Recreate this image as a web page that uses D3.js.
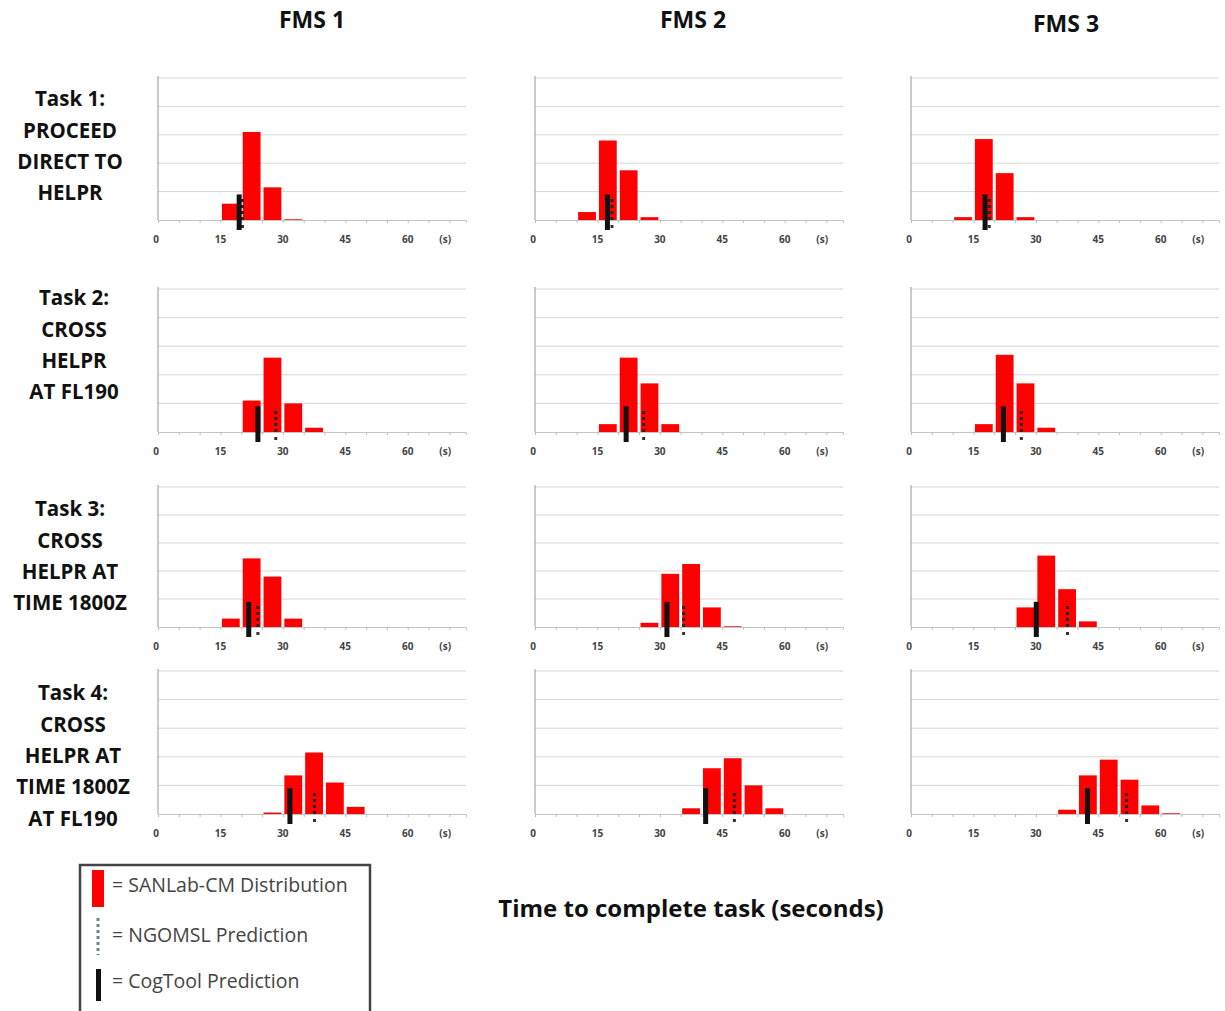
<!DOCTYPE html>
<html><head><meta charset="utf-8">
<script src="https://cdn.jsdelivr.net/npm/d3@7"></script>
<style>body{margin:0;background:#fff;} svg{display:block;font-family:"Open Sans",Lato,sans-serif;}</style>
</head><body><svg id="c" width="1225" height="1011"></svg>
<script>
// ---------- data ----------
const fmsNames = ["FMS 1", "FMS 2", "FMS 3"];
const taskLabels = [
  ["Task 1:", "PROCEED", "DIRECT TO", "HELPR"],
  ["Task 2:", "CROSS", "HELPR", "AT FL190"],
  ["Task 3:", "CROSS", "HELPR AT", "TIME 1800Z"],
  ["Task 4:", "CROSS", "HELPR AT", "TIME 1800Z", "AT FL190"]
];
const tickValues = [0, 15, 30, 45, 60];
const unitLabel = "(s)";
// histogram bin start (seconds), bins are 5 s wide
const binStarts = [10, 15, 20, 25, 30, 35, 40, 45, 50, 55, 60];
// SANLab-CM distribution (% of runs per bin), one array per FMS
const task1 = [
  [0, 11.5, 62, 23, 0.5, 0, 0, 0, 0, 0, 0],
  [5.6, 56, 35, 2, 0, 0, 0, 0, 0, 0, 0],
  [2, 57, 33, 2, 0, 0, 0, 0, 0, 0, 0]
];
const task2 = [
  [0, 0, 22, 52, 20, 3, 0, 0, 0, 0, 0],
  [0, 5.5, 52, 34, 5.5, 0, 0, 0, 0, 0, 0],
  [0, 5.5, 54, 34, 3, 0, 0, 0, 0, 0, 0]
];
const task3 = [
  [0, 6, 49, 36, 6, 0, 0, 0, 0, 0, 0],
  [0, 0, 0, 3, 38, 45, 14, 0.5, 0, 0, 0],
  [0, 0, 0, 14, 51, 27, 4, 0, 0, 0, 0]
];
const task4 = [
  [0, 0, 0, 1, 27, 43, 22, 5, 0, 0, 0],
  [0, 0, 0, 0, 0, 4, 32, 39, 20, 4, 0],
  [0, 0, 0, 0, 0, 3, 27, 38, 24, 6, 0.5]
];
const distributions = [task1, task2, task3, task4];
// point predictions (seconds): [task][fms]
const cogToolPred = [[19.5, 17.4, 17.8], [24, 21.9, 22.2], [21.8, 31.7, 30.1], [31.7, 41, 42.4]];
const ngomslPred = [[20.3, 18.5, 18.8], [28.3, 26.1, 26.5], [24, 35.7, 37.6], [37.6, 47.9, 51.8]];
const gridValues = [20, 40, 60, 80, 100];

// ---------- layout ----------
const svg = d3.select("#c");
const colX0 = [158, 535, 911];
const plotW = 308;
const rowTop = [78, 289, 487, 671];
const rowBase = [220, 432, 627, 814];
const headerX = [312, 693, 1066], headerY = [22, 22, 26];
const labelX = [70, 74, 70, 73];
const labelY0 = [101, 300, 511, 695];
const lineH = 31.3;

// headers
fmsNames.forEach((n, i) => {
  svg.append("text").attr("x", headerX[i]).attr("y", headerY[i])
    .attr("text-anchor", "middle").attr("dominant-baseline", "middle")
    .attr("font-size", 23).attr("font-weight", "bold").attr("fill", "#111").text(n);
});
// row labels
taskLabels.forEach((lines, r) => {
  lines.forEach((t, k) => {
    svg.append("text").attr("x", labelX[r]).attr("y", labelY0[r] + k * lineH)
      .attr("text-anchor", "middle").attr("dominant-baseline", "middle")
      .attr("font-size", 20.5).attr("font-weight", "bold").attr("fill", "#111").text(t);
  });
});

// panels
distributions.forEach((taskDist, r) => {
  taskDist.forEach((vals, c) => {
    const x = d3.scaleLinear().domain([0, 74]).range([colX0[c], colX0[c] + plotW]);
    const y = d3.scaleLinear().domain([0, 100]).range([rowBase[r], rowTop[r]]);
    const g = svg.append("g");
    // gridlines
    g.selectAll("line.grid").data(gridValues).join("line")
      .attr("x1", x(0)).attr("x2", x(74)).attr("y1", d => y(d)).attr("y2", d => y(d))
      .attr("stroke", "#d6d6d6").attr("stroke-width", 1);
    // y axis line
    g.append("line").attr("x1", x(0)).attr("x2", x(0)).attr("y1", y(100) - 2).attr("y2", y(0))
      .attr("stroke", "#a8a8a8").attr("stroke-width", 1.2);
    // x axis
    const ax = d3.axisBottom(x).tickValues(d3.range(0, 75, 5)).tickSize(3).tickFormat("");
    const axg = g.append("g").attr("transform", `translate(0,${y(0)})`).call(ax);
    axg.select(".domain").attr("stroke", "#c4c4c4");
    axg.selectAll(".tick line").attr("stroke", "#bdbdbd");
    // tick labels
    g.selectAll("text.tl").data(tickValues).join("text")
      .attr("x", d => x(d) - (d === 0 ? 2 : 0)).attr("y", y(0) + 20)
      .attr("text-anchor", "middle").attr("dominant-baseline", "middle")
      .attr("font-size", 10).attr("font-weight", "bold").attr("fill", "#444").text(d => d);
    g.append("text").attr("x", x(69)).attr("y", y(0) + 20)
      .attr("text-anchor", "middle").attr("dominant-baseline", "middle")
      .attr("font-size", 10).attr("font-weight", "bold").attr("fill", "#444").text(unitLabel);
    // bars
    const bw = x(5) - x(0);
    g.selectAll("rect.bar").data(binStarts.map((b, i) => ({ b, v: vals[i] })).filter(d => d.v > 0)).join("rect")
      .attr("x", d => x(d.b) + 1.5).attr("width", bw - 3)
      .attr("y", d => y(d.v)).attr("height", d => y(0) - y(d.v))
      .attr("fill", "#ff0000");
    // NGOMSL prediction
    const nx = x(ngomslPred[r][c]);
    g.append("line").attr("x1", nx).attr("x2", nx).attr("y1", y(0)).attr("y2", y(16))
      .attr("stroke", "#262626").attr("stroke-width", 3).attr("stroke-dasharray", "3,3");
    g.append("rect").attr("x", nx - 1.5).attr("y", y(0) + 5).attr("width", 3).attr("height", 3).attr("fill", "#333");
    // CogTool prediction
    const cx = x(cogToolPred[r][c]);
    g.append("rect").attr("x", cx - 2.5).attr("width", 5)
      .attr("y", y(18)).attr("height", y(0) - y(18) + 10).attr("fill", "#111");
  });
});

// axis title
svg.append("text").attr("x", 691).attr("y", 911).attr("text-anchor", "middle")
  .attr("dominant-baseline", "middle").attr("font-size", 24).attr("font-weight", "bold")
  .attr("fill", "#111").text("Time to complete task (seconds)");

// legend
const lg = svg.append("g");
lg.append("rect").attr("x", 80).attr("y", 865).attr("width", 290).attr("height", 160)
  .attr("fill", "#fff").attr("stroke", "#444").attr("stroke-width", 2.5);
lg.append("rect").attr("x", 92).attr("y", 870).attr("width", 12).attr("height", 37).attr("fill", "#ff0000");
lg.append("line").attr("x1", 98).attr("x2", 98).attr("y1", 918).attr("y2", 955)
  .attr("stroke", "#6a8590").attr("stroke-width", 3).attr("stroke-dasharray", "3,3");
lg.append("rect").attr("x", 96).attr("y", 969).attr("width", 5).attr("height", 32).attr("fill", "#111");
const legTexts = [["= SANLab-CM Distribution", 887], ["= NGOMSL Prediction", 937], ["= CogTool Prediction", 983]];
legTexts.forEach(([t, yy]) => {
  lg.append("text").attr("x", 112).attr("y", yy).attr("dominant-baseline", "middle")
    .attr("font-size", 19.5).attr("fill", "#444").text(t);
});
</script></body></html>
